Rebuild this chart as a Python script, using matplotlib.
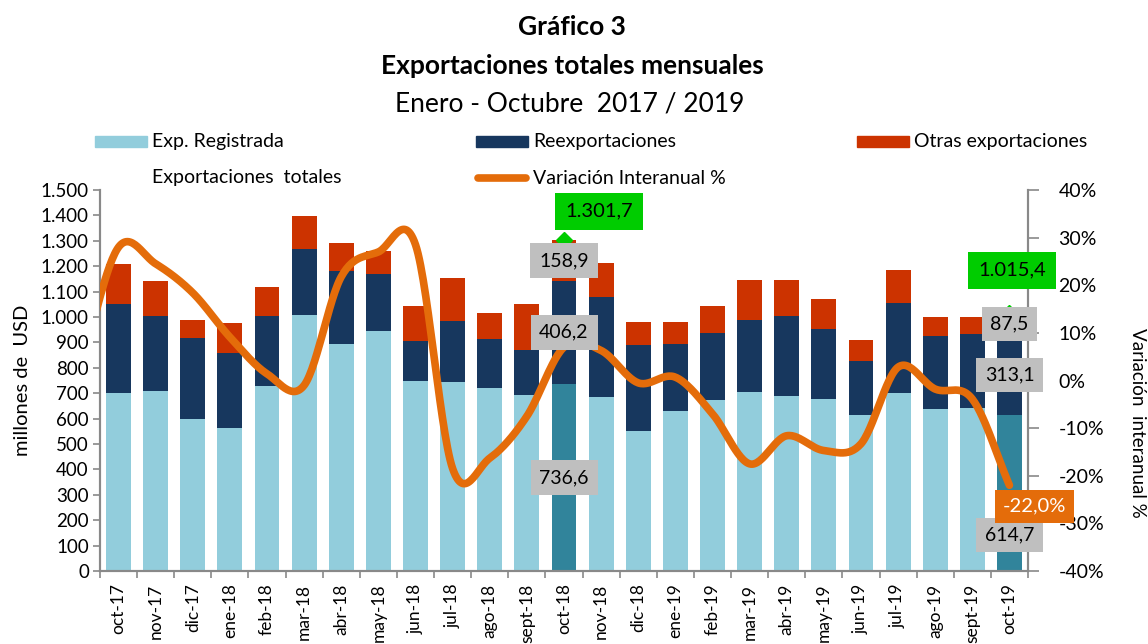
import numpy as np
import matplotlib
matplotlib.use("Agg")
import matplotlib.pyplot as plt
from matplotlib.patches import Rectangle
from matplotlib.lines import Line2D
from matplotlib.ticker import FuncFormatter, MultipleLocator

plt.rcParams['font.family'] = ['Lato', 'DejaVu Sans']

# ---------------- data ----------------
meses = ["oct-17", "nov-17", "dic-17", "ene-18", "feb-18", "mar-18", "abr-18", "may-18",
         "jun-18", "jul-18", "ago-18", "sept-18", "oct-18", "nov-18", "dic-18", "ene-19",
         "feb-19", "mar-19", "abr-19", "may-19", "jun-19", "jul-19", "ago-19", "sept-19", "oct-19"]

exp_registrada = [702, 710, 597, 563, 730, 1007, 895, 946, 749, 745, 721, 691, 736.6,
                  684, 553, 630, 674, 703, 688, 678, 615, 700, 638, 643, 614.7]
reexportaciones = [348, 294, 320, 296, 274, 261, 288, 222, 158, 238, 192, 179, 406.2,
                   393, 335, 263, 264, 285, 315, 273, 210, 355, 287, 289, 313.1]
otras_export = [157, 136, 71, 119, 114, 129, 107, 91, 135, 169, 104, 180, 158.9,
                135, 94, 89, 105, 157, 142, 119, 83, 129, 74, 67, 87.5]
total_labels = {12: "1.301,7", 24: "1.015,4"}

# variación interanual % (first value = sept-17, just outside the axis)
variacion_prev = 3.5
variacion = [28.0, 24.5, 18.4, 9.1, 1.4, -1.0, 21.8, 27.0, 28.5, -18.5, -16.3, -7.5, 7.0,
             6.3, -0.5, 0.7, -7.0, -17.5, -11.6, -14.7, -13.3, 2.8, -1.8, -3.9, -22.0]

destacados = [12, 24]

# ---------------- colours ----------------
c_light = "#92CDDC"
c_teal = "#31849B"
c_navy = "#17375E"
c_red = "#CC3300"
c_orange = "#E46C0A"
c_green = "#00CC00"
c_box = "#BFBFBF"
c_axis = "#898989"

fig = plt.figure(figsize=(11.48, 6.44), dpi=100)
ax = fig.add_axes([100/1148, 1-571/644, 928/1148, 381/644])
ax2 = ax.twinx()

x = np.arange(len(meses))
reg = np.array(exp_registrada)
ree = np.array(reexportaciones)
otr = np.array(otras_export)
tot = reg + ree + otr
w = 0.67

col_reg = [c_teal if i in destacados else c_light for i in x]
ax.bar(x, reg, width=w, color=col_reg, zorder=2)
ax.bar(x, ree, width=w, bottom=reg, color=c_navy, zorder=2)
ax.bar(x, otr, width=w, bottom=reg+ree, color=c_red, zorder=2)
ax.plot([x[i] for i in destacados], [tot[i] for i in destacados], linestyle='none',
        marker='D', markersize=8, color=c_green, zorder=3)

ax.set_xlim(-0.5, len(meses)-0.5)
ax.set_ylim(0, 1500)
ax.yaxis.set_major_locator(MultipleLocator(100))
ax.yaxis.set_major_formatter(FuncFormatter(lambda v, p: f"{int(v):,}".replace(",", ".")))
ax.set_xticks(x)
ax.set_xticklabels(meses, rotation=90, fontsize=12.5)
ax.set_xticks(np.arange(-0.5, len(meses)), minor=True)
ax.tick_params(axis='x', which='major', length=0, pad=9)
ax.tick_params(axis='x', which='minor', length=5, color=c_axis, width=1.2)
ax.tick_params(axis='y', length=5, color=c_axis, width=1.2, labelsize=13.5, pad=3)
ax.set_ylabel("millones de  USD", fontsize=14.5, va='center')
ax.yaxis.set_label_coords(-0.083, 0.5)

for a in (ax, ax2):
    a.spines['top'].set_visible(False)
    for s in ['left', 'right', 'bottom']:
        a.spines[s].set_color(c_axis)
        a.spines[s].set_linewidth(1.5)

# Catmull-Rom smoothing of the line (like Excel smoothed line)
vals = np.array([variacion_prev] + variacion)
xs_pts = np.arange(-1, len(variacion))
pad = np.concatenate([[2*vals[0]-vals[1]], vals, [2*vals[-1]-vals[-2]]])
curve_x, curve_y = [], []
for k in range(len(vals)-1):
    p0, p1, p2, p3 = pad[k], pad[k+1], pad[k+2], pad[k+3]
    t = np.linspace(0, 1, 30)
    yk = 0.5*((2*p1) + (-p0+p2)*t + (2*p0-5*p1+4*p2-p3)*t**2 + (-p0+3*p1-3*p2+p3)*t**3)
    curve_x.append(xs_pts[k] + t)
    curve_y.append(yk)
curve_x = np.concatenate(curve_x)
curve_y = np.concatenate(curve_y)
ax2.plot(curve_x, curve_y, color=c_orange, lw=5.5, solid_capstyle='round', zorder=4)

ax2.set_ylim(-40, 40)
ax2.yaxis.set_major_locator(MultipleLocator(10))
ax2.yaxis.set_major_formatter(FuncFormatter(lambda v, p: f"{int(round(v))}%"))
ax2.tick_params(axis='y', length=8, color=c_axis, width=1.2, labelsize=14, pad=14)
ax2.set_xlim(-0.5, len(meses)-0.5)
ax2.set_ylabel("Variación  interanual %", fontsize=13.5, rotation=-90, va='center')
ax2.yaxis.set_label_coords(1.1185, 0.39)

# ---------------- data labels (on top axes, in bar-data coordinates) ----------------
gray = dict(boxstyle='square,pad=0.45', fc=c_box, ec='none')
for i in destacados:
    segs = [(reg[i]/2, f"{reg[i]:.1f}".replace(".", ",")),
            (reg[i]+ree[i]/2, f"{ree[i]:.1f}".replace(".", ",")),
            (reg[i]+ree[i]+otr[i]/2, f"{otr[i]:.1f}".replace(".", ","))]
    for j, (yy, txt) in enumerate(segs):
        dy = -42 if (i == 24 and j == 0) else 0
        ax2.annotate(txt, xy=(i, yy), xycoords=ax.transData, xytext=(0, dy),
                     textcoords='offset pixels', ha='center', va='center', fontsize=14,
                     color='black', bbox=gray, zorder=10, annotation_clip=False)

green = dict(boxstyle='square,pad=0.5', fc=c_green, ec='none')
offs = {12: (35, 29), 24: (3, 43)}
for i, txt in total_labels.items():
    ax2.annotate(txt, xy=(i, tot[i]), xycoords=ax.transData, xytext=offs[i],
                 textcoords='offset pixels', ha='center', va='center', fontsize=14.5,
                 color='black', bbox=green, zorder=10, annotation_clip=False)

last = len(variacion)-1
ax2.annotate(f"{variacion[last]:.1f}%".replace(".", ","), xy=(last, variacion[last]),
             xytext=(25, -21), textcoords='offset pixels', ha='center', va='center',
             fontsize=14.5, color='white',
             bbox=dict(boxstyle='square,pad=0.4', fc=c_orange, ec='none'),
             zorder=12, annotation_clip=False)

# ---------------- titles ----------------
fig.text(572/1148, 1-27/644, "Gráfico 3", ha='center', va='center', fontsize=19, fontweight='bold')
fig.text(572/1148, 1-66/644, "Exportaciones totales mensuales", ha='center', va='center',
         fontsize=19, fontweight='bold')
fig.text(570/1148, 1-104/644, "Enero - Octubre  2017 / 2019", ha='center', va='center', fontsize=19)

# ---------------- legend ----------------
def leg_patch(xpx, ypx, color, label):
    fig.add_artist(Rectangle((xpx/1148, 1-(ypx+5.5)/644), 52/1148, 11/644,
                             transform=fig.transFigure, color=color))
    fig.text((xpx+57)/1148, 1-ypx/644, label, ha='left', va='center', fontsize=14)

leg_patch(95, 141.5, c_light, "Exp. Registrada")
leg_patch(476, 141.5, c_navy, "Reexportaciones")
leg_patch(857, 141.5, c_red, "Otras exportaciones")
fig.text(152/1148, 1-178/644, "Exportaciones  totales", ha='left', va='center', fontsize=14)
fig.add_artist(Line2D([478/1148, 526/1148], [1-178/644, 1-178/644], transform=fig.transFigure,
                      color=c_orange, lw=5.5, solid_capstyle='round'))
fig.text(533/1148, 1-178/644, "Variación Interanual %", ha='left', va='center', fontsize=14)

fig.savefig("out.png", dpi=100)
